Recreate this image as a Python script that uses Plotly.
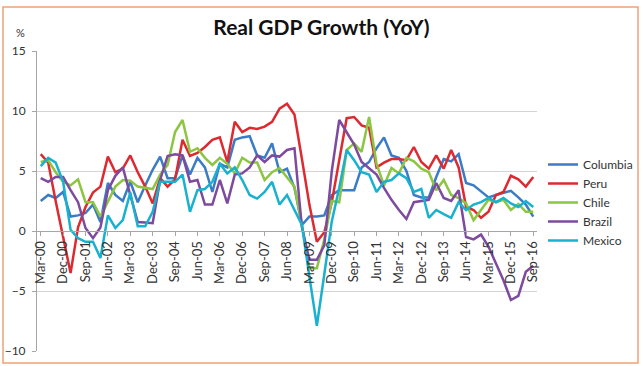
import plotly.graph_objects as go

# ---- data ----
months = ["Mar", "Jun", "Sep", "Dec"]
quarters = [f"{m}-{y % 100:02d}" for y in range(2000, 2017) for m in months][:67]
tick_labels = quarters[::3]

columbia = [2.5, 3.0, 2.75, 3.25, 1.2, 1.3, 1.5, 2.2, 0.75, 4.0,
            3.0, 2.5, 4.1, 2.4, 3.8, 5.1, 6.2, 4.4, 4.4, 6.3,
            4.7, 6.1, 5.3, 3.25, 5.6, 5.3, 7.6, 7.8, 7.9, 6.3,
            6.1, 7.3, 4.9, 5.2, 3.6, 0.5, 1.2, 1.2, 1.3, 3.0,
            3.4, 3.4, 3.4, 5.3, 5.75, 6.9, 7.8, 6.3, 6.1, 5.0,
            3.0, 2.8, 2.8, 4.5, 6.0, 5.8, 6.4, 4.0, 3.8, 3.3,
            2.8, 3.0, 3.2, 3.35, 2.8, 2.2, 1.2]
peru = [6.4, 5.7, 2.5, -0.5, -3.5, 0.3, 2.0, 3.2, 3.7, 6.2,
        4.9, 5.2, 6.3, 4.9, 3.7, 2.3, 4.4, 3.7, 4.3, 7.6,
        6.25, 6.5, 7.0, 7.6, 7.8, 5.75, 9.1, 8.25, 8.6, 8.5,
        8.7, 9.1, 10.2, 10.6, 9.7, 6.0, 2.2, -0.9, -0.1, 2.4,
        6.0, 9.4, 9.5, 8.8, 8.6, 5.3, 5.7, 6.0, 6.0, 5.9,
        7.0, 5.75, 5.2, 6.3, 5.2, 6.75, 5.3, 2.0, 1.75, 1.1,
        1.6, 3.0, 3.25, 4.6, 4.3, 3.7, 4.5]
chile = [5.75, 5.9, 4.9, 4.1, 3.8, 4.3, 2.4, 2.4, 1.2, 2.5,
         3.7, 4.25, 4.2, 3.7, 3.6, 3.5, 4.7, 5.5, 8.25, 9.25,
         6.6, 6.9, 6.1, 5.5, 6.1, 5.6, 4.8, 6.1, 5.7, 5.7,
         4.25, 4.9, 5.25, 4.5, 3.7, 0.5, -3.1, -3.1, -0.7, 2.5,
         2.4, 6.75, 7.3, 6.6, 9.5, 5.6, 3.8, 5.25, 4.8, 6.1,
         5.8, 5.2, 4.9, 3.4, 4.25, 3.0, 2.75, 2.3, 0.9, 1.75,
         2.6, 2.4, 2.6, 1.75, 2.25, 1.6, 1.6]
brazil = [4.4, 4.1, 4.5, 4.5, 3.4, 2.4, 0.25, -0.6, 0.3, 3.4,
          4.6, 5.3, 3.0, 0.75, 0.7, 0.65, 4.25, 6.25, 6.4, 6.3,
          4.1, 4.25, 2.2, 2.2, 4.25, 2.3, 4.7, 4.8, 5.3, 6.3,
          5.75, 6.3, 6.2, 6.75, 6.9, 0.3, -2.4, -2.4, -1.2, 5.0,
          9.25, 8.25, 7.2, 5.75, 5.25, 4.7, 3.6, 2.6, 1.75, 1.0,
          2.4, 2.5, 2.6, 4.0, 2.75, 2.5, 3.4, -0.5, -0.7, -0.3,
          -1.3, -2.7, -4.1, -5.75, -5.4, -3.4, -2.9]
mexico = [5.4, 6.1, 5.7, 4.1, 0.1, -0.6, -0.9, -0.9, -2.25, 1.3,
          0.25, 0.9, 3.2, 0.4, 0.4, 1.6, 4.1, 4.1, 4.1, 4.7,
          1.6, 3.4, 3.5, 4.1, 5.6, 4.8, 5.3, 4.25, 3.0, 2.7,
          3.25, 4.1, 2.2, 3.0, 1.8, 0.5, -3.8, -7.9, -3.6, 0.8,
          3.6, 6.75, 5.9, 4.9, 4.7, 3.25, 4.1, 4.25, 4.8, 4.4,
          3.25, 3.5, 1.1, 1.75, 1.4, 1.1, 2.4, 1.75, 2.2, 2.4,
          2.75, 2.4, 2.75, 2.3, 2.0, 2.5, 2.0]

series = [("Columbia", columbia, "#3a7cc6"),
          ("Peru", peru, "#dc2a30"),
          ("Chile", chile, "#8cc540"),
          ("Brazil", brazil, "#7d4a9e"),
          ("Mexico", mexico, "#18b1cf")]

FONT = "Lato, 'Open Sans', sans-serif"

fig = go.Figure()
for name, vals, col in series:
    fig.add_trace(go.Scatter(x=quarters, y=vals, name=name, mode="lines",
                             line=dict(color=col, width=2.5)))

W, H = 643, 366
L, R, T, B = 37, 106, 51, 15
pw, ph = W - L - R, H - T - B

fig.update_layout(
    width=W, height=H,
    margin=dict(l=L, r=R, t=T, b=B, autoexpand=False),
    paper_bgcolor="white", plot_bgcolor="white",
    font=dict(family=FONT, size=12, color="#404040"),
    title=dict(text="Real GDP Growth (YoY)", x=0.5, xanchor="center",
               y=1 - 28 / H, yanchor="middle",
               font=dict(family=FONT, size=21, color="#111111", weight="bold")),
    showlegend=True,
    legend=dict(x=1.012, y=(351 - 150) / ph, xanchor="left", yanchor="top",
                bgcolor="rgba(0,0,0,0)", font=dict(size=12, color="#333333"),
                itemwidth=30, tracegroupgap=0),
    xaxis=dict(type="category", range=[-0.5, 66.5],
               tickmode="array", tickvals=tick_labels, ticktext=tick_labels,
               tickangle=-90, anchor="free", position=10 / 25,
               showline=True, linecolor="#a6a6a6", linewidth=1,
               ticks="outside", ticklen=4, tickcolor="#a6a6a6",
               showgrid=False, zeroline=False, automargin=False,
               tickfont=dict(size=13, color="#333333")),
    yaxis=dict(range=[-10, 15], tickmode="array", tickvals=[-10, -5, 0, 5, 10, 15],
               showgrid=True, gridcolor="#d4d4d4", gridwidth=1,
               showline=True, linecolor="#a6a6a6", linewidth=1,
               ticks="outside", ticklen=4, tickcolor="#a6a6a6",
               ticklabelstandoff=4, automargin=False,
               zeroline=False, tickfont=dict(size=12, color="#333333")),
    annotations=[dict(text="%", xref="paper", yref="paper",
                      x=(20 - L) / pw, y=(H - B - 32) / ph,
                      showarrow=False, font=dict(size=11, color="#333333"),
                      xanchor="center", yanchor="middle")],
    shapes=[dict(type="rect", xref="paper", yref="paper",
                 x0=(3 - L) / pw, x1=(638 - L) / pw,
                 y0=(H - B - 363) / ph, y1=(H - B - 7) / ph,
                 line=dict(color="#eba27a", width=1.5), fillcolor="rgba(0,0,0,0)",
                 layer="below")],
)

fig.write_html("out.html",
               config={"displayModeBar": False},
               post_script="document.body.style.margin='0';document.body.style.overflow='hidden';")
